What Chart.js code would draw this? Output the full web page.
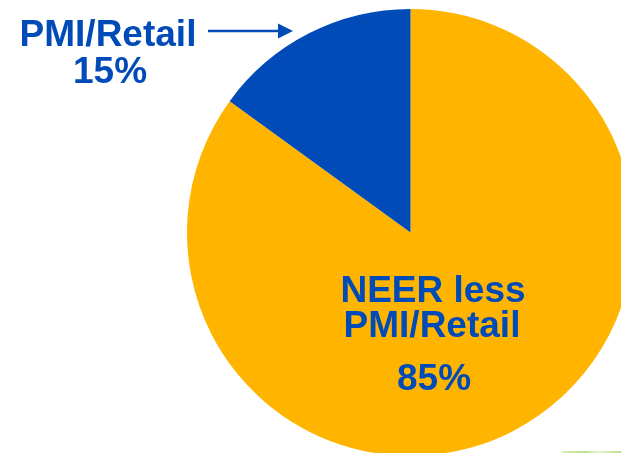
<!DOCTYPE html>
<html>
<head>
<meta charset="utf-8">
<script src="https://cdn.jsdelivr.net/npm/chart.js@4/dist/chart.umd.min.js"></script>
<style>
  html, body { margin: 0; padding: 0; background: #ffffff; }
  #frame { position: relative; width: 621px; height: 453px; overflow: hidden; background: #ffffff; }
  #pie { position: absolute; left: 0; top: 0; }
  #strip { position: absolute; left: 562px; top: 451px; width: 59px; height: 2px;
           background: linear-gradient(90deg, #d8f0b8, #b9e28f 40%, #e6f5d2 60%, #b9e28f); }
</style>
</head>
<body>
<div id="frame">
  <canvas id="pie" width="821" height="465"></canvas>
  <div id="strip"></div>
</div>
<script>
// Decomposition of the exchange-rate signal
const segmentNames = ['NEER less PMI/Retail', 'PMI/Retail'];
const segmentShares = [85, 15];

const SLICE_COLORS = ['#FFB500', '#004BB8'];
const TEXT_COLOR = '#004BB8';
const LABEL_FONT = 'bold 37px "Liberation Sans", Arial, sans-serif';

// Text labels and the pointer arrow for the small slice
const labelPlugin = {
  id: 'sliceLabels',
  afterDraw(chart) {
    const ctx = chart.ctx;
    ctx.save();
    ctx.fillStyle = TEXT_COLOR;
    ctx.strokeStyle = TEXT_COLOR;
    ctx.font = LABEL_FONT;
    ctx.textAlign = 'center';
    ctx.textBaseline = 'alphabetic';

    // small slice label, outside the pie
    ctx.fillText(segmentNames[1], 108, 46);
    ctx.fillText(segmentShares[1] + '%', 110, 83);

    // arrow pointing at the small slice
    ctx.lineWidth = 2.5;
    ctx.beginPath();
    ctx.moveTo(208, 31);
    ctx.lineTo(280, 31);
    ctx.stroke();
    ctx.beginPath();
    ctx.moveTo(293, 31);
    ctx.lineTo(278, 23.5);
    ctx.lineTo(278, 38.5);
    ctx.closePath();
    ctx.fill();

    // large slice label, inside the pie
    const words = segmentNames[0].split(' ');
    ctx.fillText(words.slice(0, 2).join(' '), 433, 302);
    ctx.fillText(words.slice(2).join(' '), 432, 337);
    ctx.fillText(segmentShares[0] + '%', 434, 390);
    ctx.restore();
  }
};

new Chart(document.getElementById('pie'), {
  type: 'pie',
  data: {
    labels: segmentNames,
    datasets: [{
      data: segmentShares,
      backgroundColor: SLICE_COLORS,
      borderWidth: 0
    }]
  },
  options: {
    responsive: false,
    animation: false,
    layout: { padding: 9 },
    plugins: {
      legend: { display: false },
      tooltip: { enabled: false }
    }
  },
  plugins: [labelPlugin]
});
</script>
</body>
</html>
